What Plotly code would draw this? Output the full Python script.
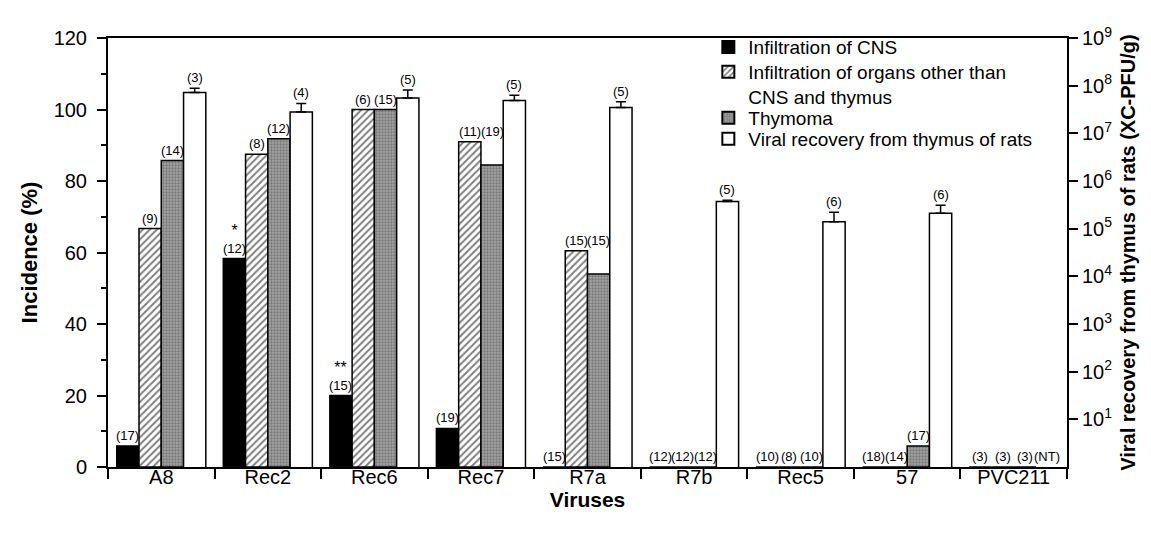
import math
import plotly.graph_objects as go

viruses = ["A8", "Rec2", "Rec6", "Rec7", "R7a", "R7b", "Rec5", "57", "PVC211"]

# Incidence (%)
cns_infiltration = [5.9, 58.3, 20.0, 10.8, 0, 0, 0, 0, 0]
organ_infiltration = [66.7, 87.5, 100, 91.0, 60.5, 0, 0, 0, 0]
thymoma = [85.7, 91.8, 100, 84.5, 54.0, 0, 0, 5.9, 0]

# Viral recovery (XC-PFU/g), log axis; None = not tested
viral_recovery = [7.2e7, 2.8e7, 5.5e7, 4.9e7, 3.5e7, 3.7e5, 1.4e5, 2.1e5, None]
viral_err_decades = [0.09, 0.18, 0.17, 0.11, 0.12, 0.03, 0.20, 0.17, None]

# group sizes (n)
n_cns = ["(17)", "(12)", "(15)", "(19)", "(15)", "(12)", "(10)", "(18)", "(3)"]
n_organ = ["(9)", "(8)", "(6)", "(11)", "(15)", "(12)", "(8)", "(14)", "(3)"]
n_thymoma = ["(14)", "(12)", "(15)", "(19)", "(15)", "(12)", "(10)", "(17)", "(3)"]
n_viral = ["(3)", "(4)", "(5)", "(5)", "(5)", "(5)", "(6)", "(6)", "(NT)"]
significance = ["", "*", "**", "", "", "", "", "", ""]

series_names = [
    "Infiltration of CNS",
    "Infiltration of organs other than<br>CNS and thymus",
    "Thymoma",
    "Viral recovery from thymus of rats",
]

right_tickvals = [10 ** k for k in range(1, 10)]
right_ticktext = ["10<sup>%d</sup>" % k for k in range(1, 10)]

FONT = "Liberation Sans, Arial, sans-serif"
W = 0.209
offsets = [-0.418 + W * k for k in range(4)]
centers = [o + W / 2 for o in offsets]

fig = go.Figure()
line = dict(color="black", width=1.5)

fig.add_trace(go.Bar(
    x=viruses, y=cns_infiltration, name=series_names[0],
    offset=offsets[0], width=W, legend="legend",
    marker=dict(color="black", line=line),
))
fig.add_trace(go.Bar(
    x=viruses, y=organ_infiltration, name=series_names[1],
    offset=offsets[1], width=W, legend="legend2",
    marker=dict(color="white", line=line,
                pattern=dict(shape="/", fgcolor="black", bgcolor="white",
                             size=5, solidity=0.4)),
))
fig.add_trace(go.Bar(
    x=viruses, y=thymoma, name=series_names[2],
    offset=offsets[2], width=W, legend="legend3",
    marker=dict(color="#8c8c8c", line=line,
                pattern=dict(shape=".", fgcolor="#4a4a4a", bgcolor="#a4a4a4",
                             size=3, solidity=0.45)),
))

err_plus = [v * (10 ** d - 1) if v is not None else 0
            for v, d in zip(viral_recovery, viral_err_decades)]
fig.add_trace(go.Bar(
    x=viruses, y=viral_recovery, name=series_names[3], yaxis="y2",
    offset=offsets[3], width=W, legend="legend4",
    marker=dict(color="white", line=line),
    error_y=dict(type="data", symmetric=False, array=err_plus,
                 arrayminus=[0] * len(viruses), color="black",
                 thickness=1.5, width=5),
))

annotations = []
afont = dict(family=FONT, size=13, color="black")
for i, v in enumerate(viruses):
    label_y = [cns_infiltration[i], organ_infiltration[i],
               max(thymoma[i], organ_infiltration[i])]
    for k, labels in enumerate([n_cns, n_organ, n_thymoma]):
        txt = labels[i]
        if k == 0 and significance[i]:
            txt = "<span style='font-size:16px'>" + significance[i] + "</span><br>" + txt
        annotations.append(dict(
            x=i + centers[k], y=label_y[k], xref="x", yref="y", text=txt,
            showarrow=False, yanchor="bottom", yshift=1, font=afont))
    rv = viral_recovery[i]
    if rv is None:
        ylog = 0
    else:
        ylog = math.log10(rv) + viral_err_decades[i]
    annotations.append(dict(
        x=i + centers[3], y=ylog, xref="x", yref="y2", text=n_viral[i],
        showarrow=False, yanchor="bottom", yshift=1, font=afont))


def leg(ypos):
    return dict(x=0.626, y=ypos, xanchor="left", yanchor="top",
                bgcolor="rgba(0,0,0,0)", font=dict(size=19, family=FONT),
                valign="top", tracegroupgap=0, itemsizing="constant")


fig.update_layout(
    width=1151, height=533,
    margin=dict(l=100, r=92, t=30, b=74),
    paper_bgcolor="white", plot_bgcolor="white",
    font=dict(family=FONT, color="black", size=16),
    barmode="overlay",
    showlegend=True,
    legend=leg(1.023),
    legend2=leg(0.965),
    legend3=leg(0.858),
    legend4=leg(0.809),
    xaxis=dict(
        type="category", range=[-0.5, 8.5],
        showline=True, linecolor="black", linewidth=2, mirror=True,
        ticks="outside", ticklen=10, tickwidth=1.5, tickcolor="black",
        tickson="boundaries", showgrid=False,
        tickfont=dict(size=20), ticklabelstandoff=-9,
        title=dict(text="<b>Viruses</b>", font=dict(size=21), standoff=0),
    ),
    yaxis=dict(
        range=[0, 120], dtick=20,
        showline=True, linecolor="black", linewidth=2, mirror=True,
        ticks="outside", ticklen=9, tickwidth=1.5, tickcolor="black",
        minor=dict(dtick=10, ticks="outside", ticklen=5, tickwidth=1.5,
                   tickcolor="black"),
        showgrid=False, zeroline=False,
        tickfont=dict(size=20), ticklabelstandoff=6,
        title=dict(text="<b>Incidence (%)</b>", font=dict(size=22), standoff=10),
    ),
    yaxis2=dict(
        type="log", range=[0, 9], overlaying="y", side="right",
        tickvals=right_tickvals, ticktext=right_ticktext,
        showline=True, linecolor="black", linewidth=2,
        ticks="outside", ticklen=9, tickwidth=1.5, tickcolor="black",
        showgrid=False, zeroline=False,
        tickfont=dict(size=20),
        title=dict(text="<b>Viral recovery from thymus of rats (XC-PFU/g)</b>",
                   font=dict(size=20), standoff=10),
    ),
    annotations=annotations,
)

fig.write_html("out.html")
